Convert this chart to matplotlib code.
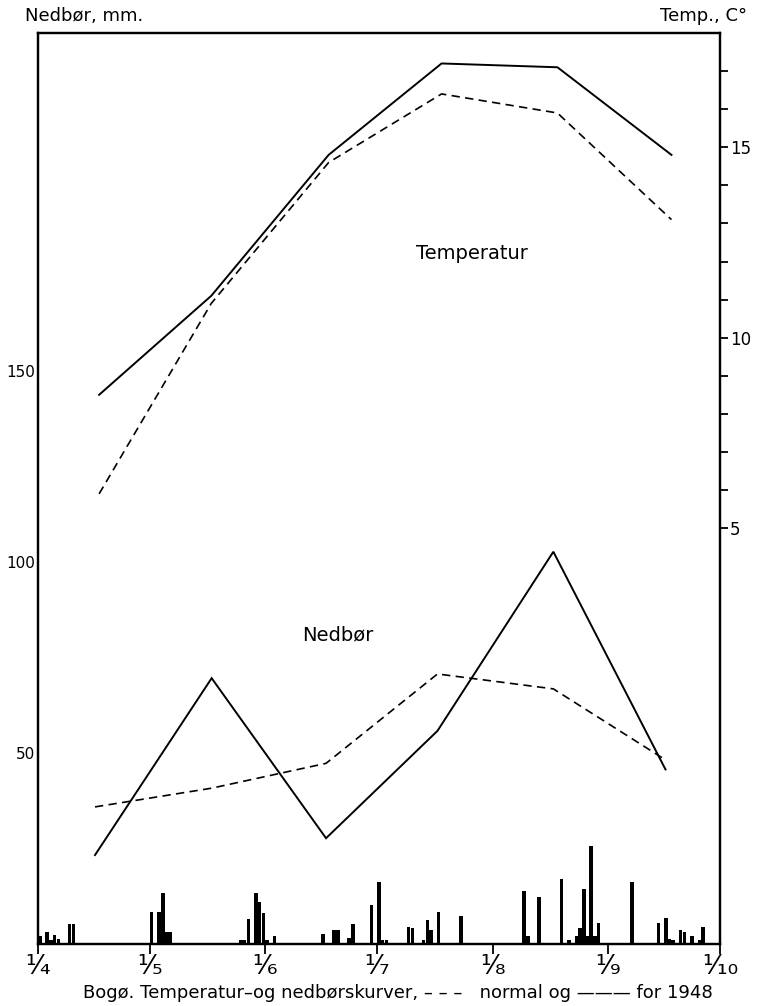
import matplotlib
matplotlib.use("Agg")
import matplotlib.pyplot as plt

# ---- data ----
month_labels = ["¹⁄₄", "¹⁄₅", "¹⁄₆", "¹⁄₇", "¹⁄₈", "¹⁄₉", "¹⁄₁₀"]
month_start_days = [0, 30, 61, 91, 122, 153, 183]   # days after 1 April

# monthly mean temperature (°C): normal (dashed) and 1948 (solid)
temp_days = [16.4, 46.5, 78, 108.3, 139.4, 170]
temp_1948 = [8.5, 11.1, 14.8, 17.2, 17.1, 14.8]
temp_normal = [5.9, 10.9, 14.6, 16.4, 15.9, 13.1]

# monthly precipitation (mm): normal (dashed) and 1948 (solid)
prec_days = [15.3, 46.6, 77.3, 107.2, 138.3, 168.4]
prec_1948 = [23.3, 69.6, 27.7, 55.8, 102.7, 45.7]
prec_normal = [35.9, 40.8, 47.3, 70.7, 66.8, 48.2]

# daily precipitation 1948 (mm), day index after 1 April
rain_days = [0, 2, 3, 4, 5, 8, 9,
             30, 32, 33, 34, 35,
             54, 55, 56, 58, 59, 60, 61, 63,
             76, 79, 80, 83, 84, 89, 91, 92, 93,
             99, 100, 103, 104, 105, 107, 113,
             130, 131, 134, 140, 142, 144, 145, 146, 147, 148, 149, 150,
             159, 166, 168, 169, 170, 172, 173, 175, 177, 178]
rain_mm = [2.0, 3.2, 1.0, 2.3, 1.2, 5.2, 5.2,
           8.3, 8.3, 13.4, 3.2, 3.2,
           1.0, 1.0, 6.6, 13.4, 11.0, 8.0, 1.0, 2.2,
           2.6, 3.6, 3.6, 1.6, 5.2, 10.2, 16.3, 1.0, 1.0,
           4.5, 4.2, 1.0, 6.3, 3.6, 8.3, 7.4,
           13.9, 2.2, 12.2, 17.1, 1.0, 2.2, 4.3, 14.3, 2.2, 25.7, 2.2, 5.6,
           16.3, 5.6, 6.9, 1.2, 1.0, 3.6, 3.2, 2.2, 1.0, 4.5]

prec_ticks = [50, 100, 150]
temp_ticks = list(range(5, 18))
temp_ticklabels = ["5" if t == 5 else "10" if t == 10 else "15" if t == 15 else "" for t in temp_ticks]

# ---- figure ----
plt.rcParams['font.family'] = ['DejaVu Sans']
fig = plt.figure(figsize=(7.57, 10.06), dpi=100)
ax = fig.add_axes([0.0502, 0.0616, 0.9008, 0.9056])
ax2 = ax.twinx()

ink = "black"
dash = (0, (5, 3.2))

# precipitation (left axis)
ax.bar(rain_days, rain_mm, width=0.95, align='edge', color=ink, linewidth=0)
ax.plot(prec_days, prec_1948, color=ink, lw=1.4, solid_joinstyle='miter')
ax.plot(prec_days, prec_normal, color=ink, lw=1.2, linestyle=dash)
ax.set_xlim(0, 183)
ax.set_ylim(0, 238.5)
ax.set_yticks(prec_ticks)
ax.set_yticklabels([str(v) for v in prec_ticks], fontsize=11)
ax.tick_params(axis='y', length=0, pad=2)
ax.set_xticks(month_start_days)
ax.set_xticklabels(month_labels, fontsize=19)
ax.tick_params(axis='x', direction='out', length=7, width=1.3, pad=0)

# temperature (right axis)
ax2.plot(temp_days, temp_1948, color=ink, lw=1.4)
ax2.plot(temp_days, temp_normal, color=ink, lw=1.2, linestyle=dash)
ax2.set_ylim(-5.92, 18.0)
ax2.set_yticks(temp_ticks)
ax2.set_yticklabels(temp_ticklabels, fontsize=12)
ax2.tick_params(axis='y', direction='out', length=6, width=1.3, pad=1)

for a in (ax, ax2):
    for s in a.spines.values():
        s.set_linewidth(1.6)
        s.set_color(ink)

# labels inside the plot
ax2.text(116.5, 12.2, "Temperatur", fontsize=14, ha='center', va='center')
ax.text(80.5, 80.9, "Nedbør", fontsize=14, ha='center', va='center')

# axis titles
fig.text(25 / 757, 1 - 16 / 1006, "Nedbør, mm.", fontsize=13, ha='left', va='center')
fig.text(747 / 757, 1 - 16 / 1006, "Temp., C°", fontsize=13, ha='right', va='center')

# caption
fig.text(398 / 757, 1 - 993 / 1006,
         "Bogø. Temperatur–og nedbørskurver, – – –   normal og ——— for 1948",
         fontsize=13, ha='center', va='center')

fig.savefig("out.png", dpi=100)
